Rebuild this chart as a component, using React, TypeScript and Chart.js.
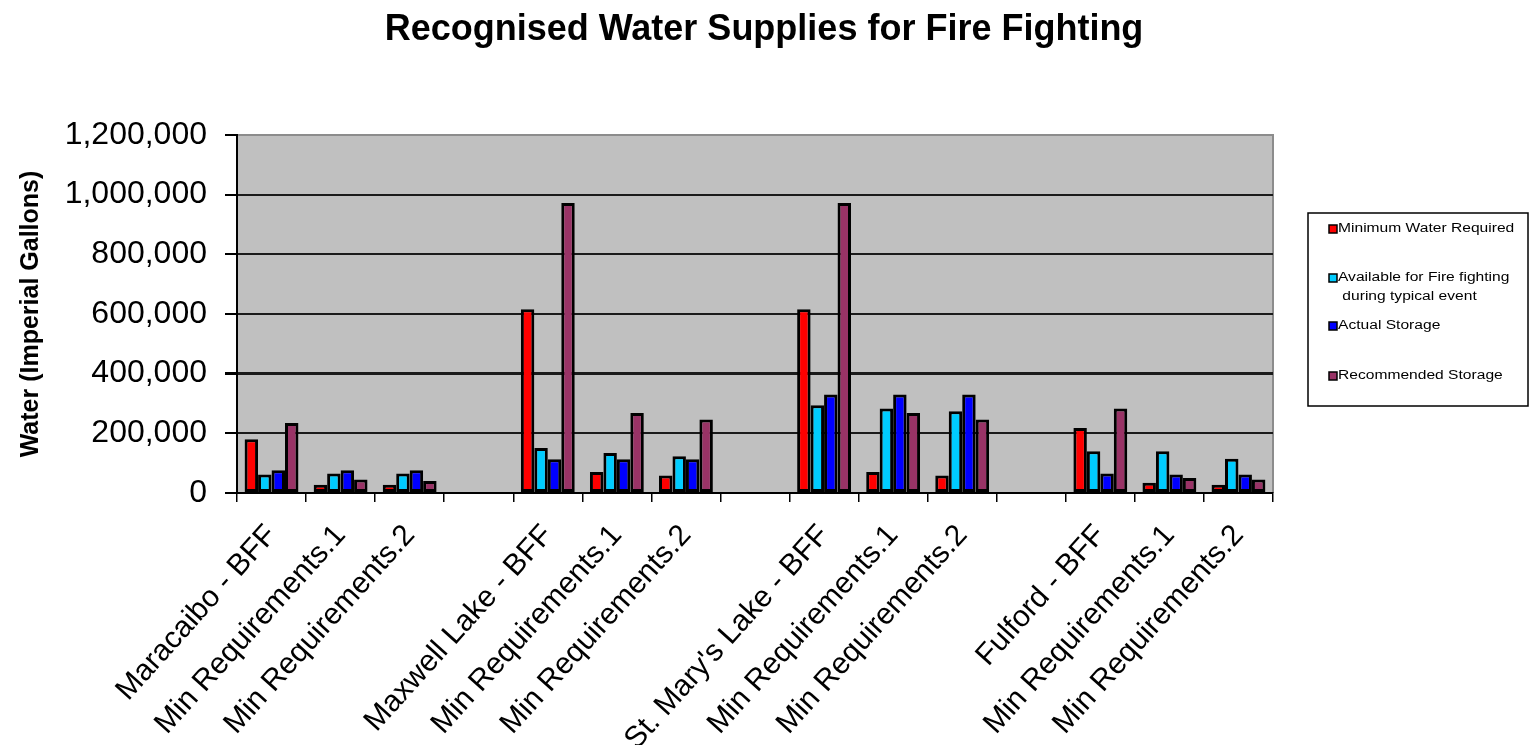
import React, { useEffect, useRef } from "react";
import { Chart, registerables } from "chart.js";

Chart.register(...registerables);

const categories: string[] = [
  "Maracaibo - BFF", "Min Requirements.1", "Min Requirements.2", "",
  "Maxwell Lake - BFF", "Min Requirements.1", "Min Requirements.2", "",
  "St. Mary's Lake - BFF", "Min Requirements.1", "Min Requirements.2", "",
  "Fulford - BFF", "Min Requirements.1", "Min Requirements.2",
];

const minimumWaterRequired: (number | null)[] = [180000, 28000, 28000, null, 616000, 70000, 59000, null, 616000, 70000, 59000, null, 218000, 34000, 28000];
const availableForFireFighting: (number | null)[] = [62000, 65000, 65000, null, 151000, 134000, 123000, null, 294000, 283000, 274000, null, 140000, 140000, 115000];
const actualStorage: (number | null)[] = [76000, 76000, 76000, null, 113000, 113000, 113000, null, 330000, 330000, 330000, null, 65000, 62000, 62000];
const recommendedStorage: (number | null)[] = [235000, 45000, 40000, null, 972000, 268000, 246000, null, 972000, 268000, 246000, null, 283000, 50000, 45000];

const seriesNames: string[] = ["Minimum Water Required", "Available for Fire fighting during typical event", "Actual Storage", "Recommended Storage"];
const legendLines: string[][] = [["Minimum Water Required"], ["Available for Fire fighting", " during typical event"], ["Actual Storage"], ["Recommended Storage"]];
const seriesColors: string[] = ["#FF0000", "#00CCFF", "#0000FF", "#993366"];

const titleText = "Recognised Water Supplies for Fire Fighting";
const yAxisTitle = "Water (Imperial Gallons)";
const yTicks: number[] = [0, 200000, 400000, 600000, 800000, 1000000, 1200000];

const FONT = "'Liberation Sans', Arial, Helvetica, sans-serif";

const decorPlugin = {
  id: "decor",
  beforeDraw(chart: any) {
    const { ctx, chartArea: a } = chart;
    ctx.save();
    ctx.fillStyle = "#C0C0C0";
    ctx.fillRect(a.left, a.top, a.right - a.left, a.bottom - a.top);
    ctx.strokeStyle = "#8c8c8c";
    ctx.lineWidth = 2;
    ctx.beginPath();
    ctx.moveTo(a.left, a.top);
    ctx.lineTo(a.right, a.top);
    ctx.lineTo(a.right, a.bottom);
    ctx.stroke();
    ctx.restore();
  },
  afterDraw(chart: any) {
    const { ctx } = chart;
    ctx.save();
    // title
    ctx.fillStyle = "#000";
    ctx.font = `bold 36px ${FONT}`;
    ctx.textAlign = "center";
    ctx.textBaseline = "alphabetic";
    ctx.fillText(titleText, 764, 40);
    // y axis title
    ctx.save();
    ctx.translate(31, 314);
    ctx.rotate(-Math.PI / 2);
    ctx.font = `bold 25px ${FONT}`;
    ctx.textAlign = "center";
    ctx.textBaseline = "middle";
    ctx.fillText(yAxisTitle, 0, 0);
    ctx.restore();
    // legend
    const bx = 1308, by = 213, bw = 220, bh = 193;
    ctx.fillStyle = "#fff";
    ctx.fillRect(bx, by, bw, bh);
    ctx.strokeStyle = "#000";
    ctx.lineWidth = 1.5;
    ctx.strokeRect(bx, by, bw, bh);
    const itemY = [229, 278, 326, 376];
    ctx.font = `12px ${FONT}`;
    ctx.textAlign = "left";
    ctx.textBaseline = "middle";
    legendLines.forEach((lines, i) => {
      const y = itemY[i];
      ctx.fillStyle = seriesColors[i];
      ctx.fillRect(1329, y - 4, 8, 8);
      ctx.strokeStyle = "#000";
      ctx.lineWidth = 1.5;
      ctx.strokeRect(1329, y - 4, 8, 8);
      ctx.fillStyle = "#000";
      lines.forEach((ln, j) => {
        ctx.save();
        ctx.translate(1338, y + j * 19);
        ctx.scale(1.3, 1);
        ctx.fillText(ln, 0, 0);
        ctx.restore();
      });
    });
    ctx.restore();
  },
};

export default function App() {
  const canvasRef = useRef<HTMLCanvasElement | null>(null);

  useEffect(() => {
    if (!canvasRef.current) return;
    const data = [minimumWaterRequired, availableForFireFighting, actualStorage, recommendedStorage];
    const chart = new Chart(canvasRef.current, {
      type: "bar",
      data: {
        labels: categories,
        datasets: data.map((d, i) => ({
          label: seriesNames[i],
          data: d,
          backgroundColor: seriesColors[i],
          borderColor: "#000",
          borderWidth: 3,
          borderSkipped: false,
          categoryPercentage: 0.78,
          barPercentage: 1.0,
        })),
      },
      options: {
        animation: false,
        responsive: true,
        maintainAspectRatio: false,
        devicePixelRatio: 1,
        layout: { padding: { left: 0, top: 135, right: 257, bottom: 0 } },
        plugins: {
          legend: { display: false },
          title: { display: false },
          tooltip: { enabled: false },
        },
        scales: {
          x: {
            afterFit: (s: any) => { s.height = 252; },
            grid: {
              offset: true,
              drawOnChartArea: false,
              drawTicks: true,
              tickLength: 9,
              color: "#000",
              lineWidth: 1.5,
            },
            border: { display: true, color: "#000", width: 2 },
            ticks: {
              autoSkip: false,
              maxRotation: 48,
              minRotation: 48,
              padding: 16,
              color: "#000",
              font: { family: FONT, size: 30 },
            },
          },
          y: {
            min: 0,
            max: 1200000,
            afterFit: (s: any) => { s.width = 237; },
            afterBuildTicks: (s: any) => { s.ticks = yTicks.map((v) => ({ value: v })); },
            grid: {
              drawOnChartArea: true,
              drawTicks: true,
              tickLength: 12,
              color: (c: any) => (c.tick && c.tick.value === 1200000 ? "#8c8c8c" : "#1a1a1a"),
              tickColor: "#000",
              lineWidth: (c: any) => (c.tick && c.tick.value === 400000 ? 3 : 2),
            },
            border: { display: true, color: "#000", width: 2 },
            ticks: {
              padding: 18,
              color: "#000",
              font: { family: FONT, size: 32 },
              callback: (v: any) => Number(v).toLocaleString("en-US"),
            },
          },
        },
      },
      plugins: [decorPlugin],
    });
    return () => chart.destroy();
  }, []);

  return (
    <div style={{ position: "fixed", left: 0, top: 0, width: 1530, height: 745, background: "#fff" }}>
      <canvas ref={canvasRef} />
    </div>
  );
}
